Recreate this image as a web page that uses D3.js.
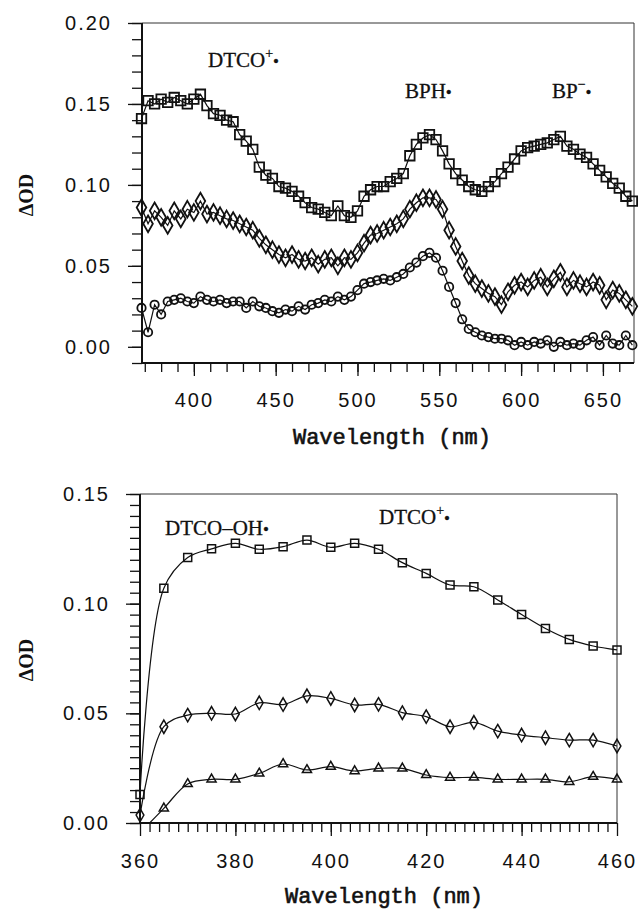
<!DOCTYPE html>
<html>
<head>
<meta charset="utf-8">
<script src="https://cdn.jsdelivr.net/npm/d3@7"></script>
<style>
  body { margin: 0; background: #fff; }
  svg { display: block; }
  .tick text { font-family: "Liberation Sans", Arial, sans-serif; font-size: 20px; letter-spacing: 2px; fill: #111; }
  .tick line { stroke: #111; stroke-width: 1.3; }
</style>
</head>
<body>
<div id="chart"></div>
<script>
// ---- top panel data (wavelength in nm, ΔOD) ----
const topWavelengths = [368, 372, 376, 380, 384, 388, 392, 396, 400, 404, 408, 412, 416, 420, 424, 428, 432, 436, 440,
  444, 448, 452, 456, 460, 464, 468, 472, 476, 480, 484, 488, 492, 496, 500, 504, 508, 512, 516, 520, 524, 528, 532,
  536, 540, 544, 548, 552, 556, 560, 564, 568, 572, 576, 580, 584, 588, 592, 596, 600, 604, 608, 612, 616, 620, 624,
  628, 632, 636, 640, 644, 648, 652, 656, 660, 664, 668];

const topSquares = [0.141, 0.152, 0.150, 0.153, 0.151, 0.154, 0.152, 0.150, 0.153, 0.156, 0.149, 0.144, 0.143, 0.140,
  0.139, 0.131, 0.127, 0.122, 0.111, 0.106, 0.104, 0.099, 0.098, 0.096, 0.093, 0.089, 0.086, 0.085, 0.083, 0.081,
  0.087, 0.081, 0.080, 0.084, 0.093, 0.097, 0.099, 0.099, 0.102, 0.104, 0.107, 0.118, 0.125, 0.129, 0.131, 0.128,
  0.121, 0.113, 0.107, 0.103, 0.099, 0.097, 0.096, 0.099, 0.102, 0.107, 0.111, 0.116, 0.121, 0.123, 0.124, 0.125,
  0.126, 0.128, 0.130, 0.124, 0.122, 0.119, 0.117, 0.113, 0.109, 0.105, 0.101, 0.098, 0.093, 0.090];

const topDiamonds = [0.086, 0.076, 0.084, 0.080, 0.075, 0.084, 0.079, 0.085, 0.083, 0.090, 0.082, 0.083, 0.081, 0.079,
  0.078, 0.076, 0.074, 0.072, 0.067, 0.063, 0.060, 0.057, 0.055, 0.057, 0.054, 0.053, 0.055, 0.051, 0.054, 0.055,
  0.050, 0.055, 0.054, 0.058, 0.064, 0.069, 0.070, 0.072, 0.074, 0.076, 0.079, 0.085, 0.089, 0.092, 0.092, 0.091,
  0.085, 0.072, 0.062, 0.053, 0.044, 0.039, 0.036, 0.033, 0.031, 0.026, 0.034, 0.038, 0.040, 0.037, 0.041, 0.043,
  0.037, 0.042, 0.046, 0.037, 0.041, 0.039, 0.037, 0.040, 0.038, 0.029, 0.035, 0.033, 0.029, 0.025];

const topCircles = [0.024, 0.009, 0.026, 0.020, 0.028, 0.029, 0.030, 0.028, 0.027, 0.031, 0.029, 0.028, 0.029, 0.027,
  0.028, 0.028, 0.024, 0.028, 0.025, 0.024, 0.022, 0.021, 0.023, 0.022, 0.025, 0.023, 0.026, 0.027, 0.029, 0.028,
  0.031, 0.029, 0.031, 0.035, 0.039, 0.040, 0.041, 0.042, 0.041, 0.043, 0.045, 0.049, 0.052, 0.056, 0.058, 0.055,
  0.047, 0.037, 0.027, 0.017, 0.011, 0.009, 0.007, 0.006, 0.005, 0.005, 0.004, 0.001, 0.003, 0.001, 0.003, 0.002,
  0.004, 0.000, 0.003, 0.001, 0.002, 0.001, 0.004, 0.006, 0.001, 0.007, 0.002, 0.001, 0.007, 0.001];

const topXTicks = [400, 450, 500, 550, 600, 650];
const topYTicks = [0.00, 0.05, 0.10, 0.15, 0.20];

// ---- bottom panel data ----
const bottomWavelengths = [360, 365, 370, 375, 380, 385, 390, 395, 400, 405, 410, 415, 420, 425, 430, 435, 440, 445, 450, 455, 460];
const bottomSquares = [0.013, 0.107, 0.121, 0.125, 0.1275, 0.1248, 0.126, 0.129, 0.1257, 0.1275, 0.1248, 0.1187,
  0.1138, 0.1085, 0.1077, 0.1017, 0.0951, 0.0887, 0.0837, 0.0807, 0.0789];
const bottomDiamonds = [0.0036, 0.0439, 0.0492, 0.050, 0.0497, 0.0548, 0.054, 0.058, 0.0568, 0.0538, 0.0541, 0.0503,
  0.0485, 0.0439, 0.0459, 0.0419, 0.0401, 0.0389, 0.0378, 0.0378, 0.0351];
const bottomTriangles = [-0.0045, 0.0067, 0.0178, 0.0199, 0.0199, 0.0226, 0.0269, 0.0242, 0.0257, 0.0237, 0.0249,
  0.0249, 0.0219, 0.0207, 0.0208, 0.0199, 0.0199, 0.0199, 0.0188, 0.0211, 0.0199];

const bottomXTicks = [360, 380, 400, 420, 440, 460];
const bottomYTicks = [0.00, 0.05, 0.10, 0.15];

const ink = "#111";

const svg = d3.select("#chart")
  .append("svg")
  .attr("width", 640)
  .attr("height", 912);

function drawPanel(cfg) {
  const x = d3.scaleLinear().domain(cfg.xDomain).range([cfg.left, cfg.right]);
  const y = d3.scaleLinear().domain(cfg.yDomain).range([cfg.bottom, cfg.top]);
  const g = svg.append("g");

  // minor + major ticks, left
  g.append("g")
    .attr("transform", `translate(${cfg.left},0)`)
    .call(d3.axisLeft(y).tickValues(cfg.yMinor).tickSize(10).tickFormat(""))
    .call(a => a.select(".domain").remove());
  g.append("g")
    .attr("transform", `translate(${cfg.left},0)`)
    .call(d3.axisLeft(y).tickValues(cfg.yMajor).tickSize(14).tickPadding(16).tickFormat(d3.format(".2f")))
    .call(a => a.select(".domain").remove());

  // minor + major ticks, bottom
  g.append("g")
    .attr("transform", `translate(0,${cfg.bottom})`)
    .call(d3.axisBottom(x).tickValues(cfg.xMinor).tickSize(9).tickFormat(""))
    .call(a => a.select(".domain").remove());
  g.append("g")
    .attr("transform", `translate(0,${cfg.bottom})`)
    .call(d3.axisBottom(x).tickValues(cfg.xMajor).tickSize(13).tickPadding(cfg.xPad).tickFormat(d3.format("d")))
    .call(a => a.select(".domain").remove());

  // frame: thin top/right, heavier axes
  g.append("path")
    .attr("d", `M${cfg.left},${cfg.top}H${cfg.right}V${cfg.bottom}`)
    .attr("fill", "none").attr("stroke", "#333").attr("stroke-width", 1);
  g.append("path")
    .attr("d", `M${cfg.left},${cfg.top}V${cfg.bottom}H${cfg.right}`)
    .attr("fill", "none").attr("stroke", ink).attr("stroke-width", 2);

  const clipId = "clip" + cfg.id;
  svg.append("clipPath").attr("id", clipId)
    .append("rect")
    .attr("x", cfg.left).attr("y", cfg.top)
    .attr("width", cfg.right - cfg.left).attr("height", cfg.bottom - cfg.top);

  const line = d3.line()
    .x(d => x(d[0]))
    .y(d => y(d[1]))
    .curve(cfg.curve);

  cfg.series.forEach(s => {
    const pts = cfg.xs.map((w, i) => [w, s.values[i]]);
    g.append("path")
      .attr("clip-path", `url(#${clipId})`)
      .attr("d", line(pts))
      .attr("fill", "none")
      .attr("stroke", ink)
      .attr("stroke-width", 1.2);
    g.append("g")
      .selectAll("path")
      .data(pts.filter(p => p[1] >= 0))
      .join("path")
      .attr("transform", p => `translate(${x(p[0])},${y(p[1])})`)
      .attr("d", d3.symbol().type(s.shape).size(s.size))
      .attr("fill", "none")
      .attr("stroke", ink)
      .attr("stroke-width", cfg.markerStroke);
  });

  // axis titles
  g.append("text")
    .attr("transform", `translate(${cfg.yTitle[0]},${cfg.yTitle[1]}) rotate(-90)`)
    .attr("text-anchor", "middle")
    .attr("dominant-baseline", "central")
    .style("font-family", "'Liberation Serif', serif")
    .style("font-weight", "bold")
    .style("font-size", "20px")
    .attr("fill", ink)
    .text("ΔOD");

  g.append("text")
    .attr("x", cfg.xTitle[0])
    .attr("y", cfg.xTitle[1])
    .attr("text-anchor", "middle")
    .style("font-family", "'Liberation Mono', monospace")
    .style("font-size", "22px")
    .attr("fill", ink)
    .attr("stroke", ink)
    .attr("stroke-width", 0.6)
    .text("Wavelength (nm)");

  // species labels
  cfg.labels.forEach(l => {
    const t = g.append("text")
      .attr("x", l.x).attr("y", l.y)
      .style("font-family", "'Liberation Serif', serif")
      .style("font-size", "21px")
      .attr("fill", ink)
      .attr("stroke", ink)
      .attr("stroke-width", 0.3);
    t.append("tspan").text(l.text);
    if (l.sup) {
      t.append("tspan").attr("dy", -9).style("font-size", "14px").text(l.sup);
      t.append("tspan").attr("dy", 9).style("font-size", "17px").text("•");
    } else {
      t.append("tspan").style("font-size", "17px").text("•");
    }
  });
}

drawPanel({
  id: "top",
  left: 142, right: 634, top: 23, bottom: 363,
  xDomain: [368.3, 669], yDomain: [-0.01, 0.20],
  xs: topWavelengths,
  xMajor: topXTicks, xMinor: d3.range(370, 670, 10),
  yMajor: topYTicks, yMinor: d3.range(-0.01, 0.2001, 0.01),
  xPad: 17,
  curve: d3.curveLinear,
  markerStroke: 1.8,
  series: [
    { values: topSquares, shape: d3.symbolSquare, size: 90 },
    { values: topDiamonds, shape: d3.symbolDiamond, size: 80 },
    { values: topCircles, shape: d3.symbolCircle, size: 55 }
  ],
  yTitle: [26, 195],
  xTitle: [392, 444],
  labels: [
    { x: 208, y: 67, text: "DTCO", sup: "+" },
    { x: 405, y: 98, text: "BPH" },
    { x: 552, y: 98, text: "BP", sup: "−" }
  ]
});

drawPanel({
  id: "bottom",
  left: 140, right: 617, top: 494, bottom: 823,
  xDomain: [360, 460], yDomain: [0, 0.15],
  xs: bottomWavelengths,
  xMajor: bottomXTicks, xMinor: d3.range(362, 460, 2),
  yMajor: bottomYTicks, yMinor: d3.range(0, 0.1501, 0.005),
  xPad: 18,
  curve: d3.curveCatmullRom,
  markerStroke: 1.5,
  series: [
    { values: bottomSquares, shape: d3.symbolSquare, size: 64 },
    { values: bottomDiamonds, shape: d3.symbolDiamond, size: 52 },
    { values: bottomTriangles, shape: d3.symbolTriangle, size: 36 }
  ],
  yTitle: [26, 660],
  xTitle: [384, 903],
  labels: [
    { x: 165, y: 535, text: "DTCO–OH" },
    { x: 379, y: 524, text: "DTCO", sup: "+" }
  ]
});
</script>
</body>
</html>
